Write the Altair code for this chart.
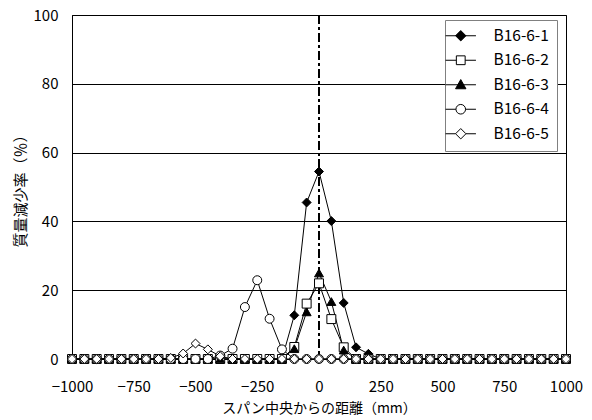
import altair as alt
import pandas as pd

# distance from span centre (mm)
positions = [-1000, -950, -900, -850, -800, -750, -700, -650, -600, -550,
             -500, -450, -400, -350, -300, -250, -200, -150, -100, -50,
             0, 50, 100, 150, 200, 250, 300, 350, 400, 450,
             500, 550, 600, 650, 700, 750, 800, 850, 900, 950, 1000]

series_names = ["B16-6-1", "B16-6-2", "B16-6-3", "B16-6-4", "B16-6-5"]

s1 = [0, 0, 0, 0, 0, 0, 0, 0, 0, 0,
      0, 0, 0, 0, 0, 0, 0, 0, 12.7, 45.5,
      54.5, 40.1, 16.3, 3.4, 1.5, 0, 0, 0, 0, 0,
      0, 0, 0, 0, 0, 0, 0, 0, 0, 0, 0]
s2 = [0, 0, 0, 0, 0, 0, 0, 0, 0, 0,
      0, 0, 0, 0, 0, 0, 0, 0, 3.5, 16.1,
      22.0, 11.6, 3.4, 0, 0, 0, 0, 0, 0, 0,
      0, 0, 0, 0, 0, 0, 0, 0, 0, 0, 0]
s3 = [0, 0, 0, 0, 0, 0, 0, 0, 0, 0,
      0, 0, 0, 0, 0, 0, 0, 0, 3.0, 13.7,
      25.0, 16.7, 2.6, 0, 0, 0, 0, 0, 0, 0,
      0, 0, 0, 0, 0, 0, 0, 0, 0, 0, 0]
s4 = [0, 0, 0, 0, 0, 0, 0, 0, 0, 0,
      0, 0, 1.0, 3.0, 15.1, 22.9, 11.7, 2.8, 0, 0,
      0, 0, 0, 0, 0, 0, 0, 0, 0, 0,
      0, 0, 0, 0, 0, 0, 0, 0, 0, 0, 0]
s5 = [0, 0, 0, 0, 0, 0, 0, 0, 0.3, 1.6,
      4.5, 2.8, 0.8, 0, 0, 0, 0, 0, 0, 0,
      0, 0, 0, 0, 0, 0, 0, 0, 0, 0,
      0, 0, 0, 0, 0, 0, 0, 0, 0, 0, 0]

x_ticks = [-1000, -750, -500, -250, 0, 250, 500, 750, 1000]
y_ticks = [0, 20, 40, 60, 80, 100]

rows = []
for name, vals in zip(series_names, [s1, s2, s3, s4, s5]):
    for i, (p, v) in enumerate(zip(positions, vals)):
        rows.append({"series": name, "pos": p, "val": v, "order": i})
df = pd.DataFrame(rows)

FONT = "Noto Sans CJK JP"

point_shapes = ["diamond", "square", "triangle-up", "circle", "diamond"]
fills = ["black", "white", "black", "white", "white"]
strokes = ["black", "black", "black", "black", "black"]

# legend symbols: line + marker
legend_shapes = [
    "M-3.8,0H3.8M0,-1.3L1.3,0L0,1.3L-1.3,0Z",
    "M-3.8,0H-1.1M1.1,0H3.8M-1.1,-1.1H1.1V1.1H-1.1Z",
    "M-3.8,0H3.8M0,-1.3L1.3,1.0L-1.3,1.0Z",
    "M-3.8,0H-1.2M1.2,0H3.8M-1.2,0A1.2,1.2,0,1,1,1.2,0A1.2,1.2,0,1,1,-1.2,0Z",
    "M-3.8,0H-1.3M1.3,0H3.8M0,-1.3L1.3,0L0,1.3L-1.3,0Z",
]

x_enc = alt.X("pos:Q", scale=alt.Scale(domain=[-1000, 1000], nice=False),
              axis=alt.Axis(values=x_ticks, title="スパン中央からの距離（mm）",
                            grid=False, ticks=False, labelPadding=20,
                            labelFlush=False, titleFontSize=14,
                            titlePadding=7, format="d"))
y_enc = alt.Y("val:Q", scale=alt.Scale(domain=[0, 100], nice=False),
              axis=alt.Axis(values=y_ticks, title="質量減少率（％）",
                            grid=True, ticks=False, labelPadding=14,
                            titleFontSize=15, titlePadding=5))

base = alt.Chart(df)

lines = base.mark_line(color="black", strokeWidth=1).encode(
    x=x_enc, y=y_enc, detail="series:N", order="order:Q"
)

points = base.mark_point(filled=True, stroke="black", strokeWidth=1, opacity=1, size=80).encode(
    x="pos:Q", y="val:Q",
    shape=alt.Shape("series:N", scale=alt.Scale(domain=series_names, range=point_shapes), legend=None),
    fill=alt.Fill("series:N", scale=alt.Scale(domain=series_names, range=fills), legend=None),
)

center = alt.Chart(pd.DataFrame({"pos": [0]})).mark_rule(
    color="black", strokeWidth=2, strokeDash=[9, 3, 3, 3]
).encode(x="pos:Q")


def legend_def():
    return alt.Legend(title=None, orient="none", legendX=373, legendY=5,
                      symbolSize=64, symbolStrokeColor="black",
                      symbolStrokeWidth=1, labelOffset=25,
                      labelFont=FONT, labelFontSize=15.5, labelColor="black",
                      rowPadding=7.5, padding=8,
                      strokeColor="#808080", fillColor="white")


legend_layer = base.transform_filter("false").mark_point(
    filled=True, strokeWidth=1, opacity=1
).encode(
    x="pos:Q", y="val:Q",
    shape=alt.Shape("series:N", scale=alt.Scale(domain=series_names, range=legend_shapes),
                    legend=legend_def()),
    fill=alt.Fill("series:N", scale=alt.Scale(domain=series_names, range=fills),
                  legend=legend_def()),
    stroke=alt.Stroke("series:N", scale=alt.Scale(domain=series_names, range=strokes),
                      legend=legend_def()),
)

chart = alt.layer(lines, center, points, legend_layer).resolve_scale(
    shape="independent", fill="independent", stroke="independent"
).properties(
    width=494, height=344,
    autosize=alt.AutoSizeParams(type="none"),
    padding={"left": 72, "top": 15, "right": 26, "bottom": 61},
    background="white",
).configure_view(
    stroke="black", strokeWidth=1
).configure_axis(
    labelFont=FONT, titleFont=FONT, labelFontSize=15,
    labelColor="black", titleColor="black", domainColor="black",
    gridColor="black", gridWidth=1, gridOpacity=1, titleFontWeight="normal",
)

chart.save("out.html", embed_options={"renderer": "svg", "actions": False})
